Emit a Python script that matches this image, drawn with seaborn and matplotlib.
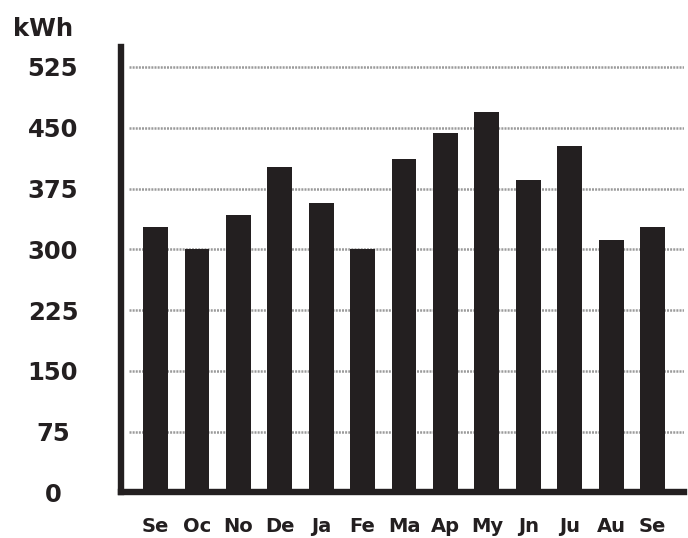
import numpy as np
import matplotlib
matplotlib.use("Agg")
import matplotlib.pyplot as plt
import seaborn as sns
import pandas as pd

months = ["Se", "Oc", "No", "De", "Ja", "Fe", "Ma", "Ap", "My", "Jn", "Ju", "Au", "Se"]
kwh = [328, 300, 342, 401, 357, 300, 412, 443, 470, 385, 428, 312, 328]
yticks = [0, 75, 150, 225, 300, 375, 450, 525]

ink = "#231f20"
sns.set_style("white")
plt.rcParams["font.family"] = ["DejaVu Sans"]

df = pd.DataFrame({"idx": np.arange(len(months)), "kwh": kwh})

fig = plt.figure(figsize=(6.88, 5.38), dpi=100)
ax = fig.add_axes([0.1759, 0.0846, 0.9942 - 0.1759, 0.9132 - 0.0846])
sns.barplot(data=df, x="idx", y="kwh", color=ink, saturation=1, width=0.6, ax=ax, zorder=3)
for p in ax.patches:
    p.set_edgecolor("none")

ax.set_xlim(-0.833, 12.76)
ax.set_ylim(0, 550)
ax.set_yticks(yticks)
ax.set_yticklabels([str(t) for t in yticks])
ax.set_xticks(np.arange(len(months)))
ax.set_xticklabels(months)
ax.set_xlabel("")
ax.set_ylabel("")

# dotted grid lines
for t in yticks[1:]:
    ax.axhline(t, xmin=0.014, xmax=1, color="#9a9a9a", lw=1.8, dashes=(0.8, 0.45), zorder=1)

for side in ["top", "right"]:
    ax.spines[side].set_visible(False)
for side in ["left", "bottom"]:
    ax.spines[side].set_linewidth(4.6)
    ax.spines[side].set_color(ink)

ax.tick_params(axis="y", length=0, pad=49, labelsize=17.5, labelcolor=ink)
ax.tick_params(axis="x", length=0, pad=18, labelsize=14, labelcolor=ink)
for lab in ax.get_yticklabels():
    lab.set_ha("center")
    lab.set_fontweight("bold")
for lab in ax.get_xticklabels():
    lab.set_fontweight("bold")

fig.text(43.5 / 688, 1 - 36 / 538, "kWh", ha="center", va="baseline",
         fontsize=17.5, fontweight="bold", color=ink)

fig.savefig("out.png", dpi=100)
